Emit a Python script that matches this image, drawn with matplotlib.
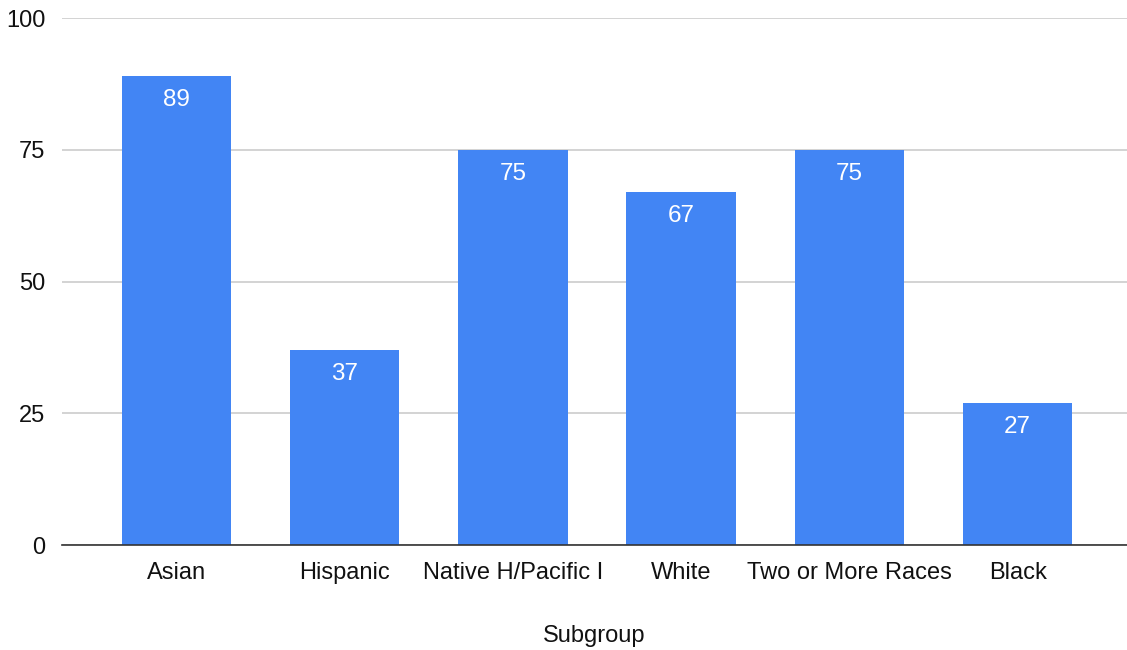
import matplotlib.pyplot as plt

categories = ['Asian', 'Hispanic', 'Native H/Pacific I', 'White', 'Two or More Races', 'Black']
values = [89, 37, 75, 67, 75, 27]
yticks = [0, 25, 50, 75, 100]

plt.rcParams['font.family'] = ['Liberation Sans', 'DejaVu Sans']

fig = plt.figure(figsize=(11.27, 6.5), dpi=100)
ax = fig.add_axes([0.055, 0.1615, 0.945, 0.8105])

x = range(len(categories))
bars = ax.bar(x, values, width=0.65, color='#4285F4', zorder=2)

for b, v in zip(bars, values):
    ax.annotate(str(v), (b.get_x() + b.get_width() / 2, v), xytext=(0, -24),
                textcoords='offset pixels', ha='center', va='center',
                color='white', fontsize=17.5)

ax.set_ylim(0, 100)
ax.set_xlim(-0.68, 5.65)
ax.set_yticks(yticks)
ax.set_xticks(list(x))
ax.set_xticklabels(categories)
ax.tick_params(axis='both', length=0, labelsize=17, colors='#111111')
ax.tick_params(axis='y', pad=12)
ax.tick_params(axis='x', pad=12)
ax.grid(axis='y', color='#cccccc', linewidth=1.2, zorder=0)

for s in ['top', 'right', 'left']:
    ax.spines[s].set_visible(False)
ax.spines['bottom'].set_color('#333333')
ax.spines['bottom'].set_linewidth(1.2)
ax.spines['bottom'].set_zorder(3)

ax.set_xlabel('Subgroup', fontsize=17, color='#111111', labelpad=30)

fig.savefig('out.png', dpi=100)
